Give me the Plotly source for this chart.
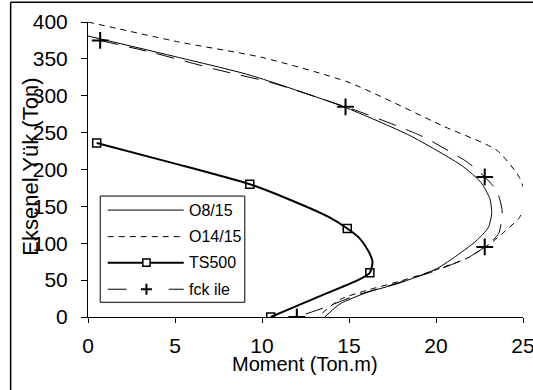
import plotly.graph_objects as go

# Interaction curves: moment (Ton.m) vs axial load (Ton)
o8_moment = [0, 5.2, 9.3, 14.7, 18.5, 21.5, 22.6, 23.1, 23.2, 23.0, 22.3, 21.0, 20.0, 17.9, 16.0, 14.5, 13.6]
o8_load = [381, 352, 328, 285, 246, 205, 182, 160, 140, 121, 103, 80, 65, 46, 33, 18, 0]

o14_moment = [0, 5.2, 10.0, 15.0, 20.4, 23.5, 24.8, 25.2, 24.8, 24.0, 23.3, 21.9, 20.0, 18.0, 16.0, 14.5, 13.2]
o14_load = [400, 373, 352, 318, 259, 226, 189, 158, 135, 117, 103, 81, 64, 49, 36, 24, 0]

ts_moment = [0.5, 5.0, 9.3, 11.5, 13.8, 14.9, 15.6, 16.1, 16.35, 16.2, 15.6, 13.1, 11.6, 10.5]
ts_load = [236, 208, 180, 160, 136, 120, 107, 90, 75, 60, 51, 26, 11, 0]
ts_mark_moment = [0.5, 9.3, 14.9, 16.2, 10.5]
ts_mark_load = [236, 180, 120, 60, 0]

fck_moment = [0.7, 3.8, 7.3, 10.5, 14.8, 16.0, 19.2, 21.8, 22.8, 23.5, 23.8, 23.6, 22.8, 21.8, 20.0, 17.5, 15.5, 13.5, 12.0]
fck_load = [375, 358, 336, 318, 285, 275, 245, 210, 190, 171, 144, 113, 95, 80, 63, 44, 30, 12, 0]
fck_mark_moment = [0.7, 14.8, 22.8, 22.8, 12.0]
fck_mark_load = [375, 285, 190, 95, 0]

series_names = ["O8/15", "O14/15", "TS500", "fck ile"]
x_ticks = [0, 5, 10, 15, 20, 25]
y_ticks = [0, 50, 100, 150, 200, 250, 300, 350, 400]

FONT = "Liberation Sans, Arial, sans-serif"
SMOOTH = 0.6
W, H = 533, 390
M_L, M_R, M_T, M_B = 88.3, 10, 22.3, 73.3
PW, PH = W - M_L - M_R, H - M_T - M_B


def px(x):
    """page x (px) -> paper coordinate"""
    return (x - M_L) / PW


def py(y):
    """page y (px, from top) -> paper coordinate"""
    return (H - M_B - y) / PH


thin = dict(color="black", width=1)
dashed = dict(color="black", width=1, dash="6px,5px")
thick = dict(color="black", width=2)
longdash = dict(color="black", width=1, dash="18px,11px")
square_mk = dict(symbol="square-open", size=8, color="black", line=dict(width=1.5, color="black"))
plus_mk = dict(symbol="cross-thin-open", size=12, color="black", line=dict(width=2, color="black"))

fig = go.Figure()


def curve(xs, ys, line):
    fig.add_trace(go.Scatter(x=xs, y=ys, mode="lines", line=dict(line, shape="spline", smoothing=SMOOTH),
                             showlegend=False, hoverinfo="skip"))


curve(o8_moment, o8_load, thin)
curve(o14_moment, o14_load, dashed)
curve(ts_moment, ts_load, thick)
fig.add_trace(go.Scatter(x=ts_mark_moment, y=ts_mark_load, mode="markers", marker=square_mk, showlegend=False))
curve(fck_moment, fck_load, longdash)
fig.add_trace(go.Scatter(x=fck_mark_moment, y=fck_mark_load, mode="markers", marker=plus_mk, showlegend=False))

fig.update_xaxes(range=[0, 25], tickvals=x_ticks, showgrid=False, zeroline=False,
                 showline=True, linecolor="black", linewidth=1, automargin=False,
                 ticks="outside", ticklen=5, tickcolor="black", tickwidth=1,
                 tickfont=dict(family=FONT, size=21, color="black"), ticklabelstandoff=5,
                 ticklabeloverflow="allow")
fig.update_yaxes(range=[0, 400], tickvals=y_ticks, showgrid=False, zeroline=False,
                 showline=True, linecolor="black", linewidth=1, automargin=False,
                 ticks="outside", ticklen=6, tickcolor="black", tickwidth=1,
                 tickfont=dict(family=FONT, size=21, color="black"), ticklabelstandoff=9,
                 ticklabeloverflow="allow")

fig.add_annotation(text="Moment (Ton.m)", xref="paper", yref="paper", x=px(305), y=py(364),
                   showarrow=False, xanchor="center", yanchor="middle",
                   font=dict(family=FONT, size=20, color="black"))
fig.add_annotation(text="Eksenel Yük (Ton)", xref="paper", yref="paper", x=px(31), y=py(167),
                   showarrow=False, textangle=-90, xanchor="center", yanchor="middle",
                   font=dict(family=FONT, size=22, color="black"))

# chart frame: left and top edges (the rest lies past the page edge)
frame = dict(color="black", width=1.5)
fig.add_shape(type="line", xref="paper", yref="paper", x0=px(11), x1=px(11), y0=py(390), y1=py(2.5), line=frame)
fig.add_shape(type="line", xref="paper", yref="paper", x0=px(11), x1=px(533), y0=py(2.5), y1=py(2.5), line=frame)

# legend box
shapes = [dict(type="rect", x0=px(100.5), x1=px(245), y0=py(302), y1=py(196),
               line=dict(color="black", width=1), fillcolor="white")]
row_y = [210, 236.5, 262.5, 289]
LX0, LX1, MKX = 108, 184, 146.7
# O8/15: solid
shapes.append(dict(type="line", x0=px(LX0), x1=px(LX1), y0=py(row_y[0]), y1=py(row_y[0]), line=thin))
# O14/15: short dashes
shapes.append(dict(type="line", x0=px(LX0), x1=px(180), y0=py(row_y[1]), y1=py(row_y[1]), line=dashed))
# TS500: thick line with square
shapes.append(dict(type="line", x0=px(LX0), x1=px(LX1), y0=py(row_y[2]), y1=py(row_y[2]), line=thick))
shapes.append(dict(type="rect", x0=px(MKX - 3.6), x1=px(MKX + 3.6), y0=py(row_y[2] + 3.6), y1=py(row_y[2] - 3.6),
                   line=dict(color="black", width=1.5), fillcolor="white"))
# fck ile: long dashes with plus
shapes.append(dict(type="line", x0=px(LX0), x1=px(127), y0=py(row_y[3]), y1=py(row_y[3]), line=thin))
shapes.append(dict(type="line", x0=px(169), x1=px(LX1), y0=py(row_y[3]), y1=py(row_y[3]), line=thin))
shapes.append(dict(type="line", x0=px(MKX - 5.5), x1=px(MKX + 5.5), y0=py(row_y[3]), y1=py(row_y[3]),
                   line=dict(color="black", width=2)))
shapes.append(dict(type="line", x0=px(MKX), x1=px(MKX), y0=py(row_y[3] - 5.5), y1=py(row_y[3] + 5.5),
                   line=dict(color="black", width=2)))
for s in shapes:
    fig.add_shape(xref="paper", yref="paper", layer="above", **s)
for name, ry in zip(series_names, row_y):
    fig.add_annotation(text=name, xref="paper", yref="paper", x=px(187), y=py(ry),
                       showarrow=False, xanchor="left", yanchor="middle",
                       font=dict(family=FONT, size=16, color="black"))

fig.update_layout(
    width=W, height=H,
    margin=dict(l=M_L, r=M_R, t=M_T, b=M_B, autoexpand=False),
    plot_bgcolor="white", paper_bgcolor="white",
    font=dict(family=FONT, color="black"),
    showlegend=False,
)

fig.write_html("out.html")
